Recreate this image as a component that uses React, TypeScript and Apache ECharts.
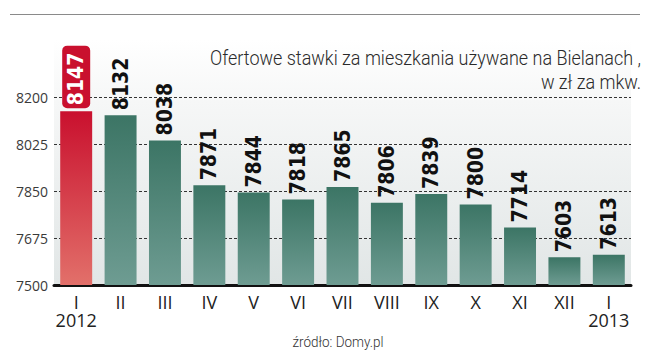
import React, { useEffect, useRef } from "react";
import * as echarts from "echarts";

const months = ["I", "II", "III", "IV", "V", "VI", "VII", "VIII", "IX", "X", "XI", "XII", "I"];
const years = ["2012", "", "", "", "", "", "", "", "", "", "", "", "2013"];
const values = [8147, 8132, 8038, 7871, 7844, 7818, 7865, 7806, 7839, 7800, 7714, 7603, 7613];
const yTickLabels = [7500, 7675, 7850, 8025, 8200];
const BASE = 7500;
const STEP = 175;
const titleLines = ["Ofertowe stawki za mieszkania używane na Bielanach ,", "w zł za mkw."];
const sourceText = "źródło: Domy.pl";

const LABEL_FONT = "'Liberation Sans Narrow', 'DejaVu Sans Condensed', 'DejaVu Sans', sans-serif";

export default function App() {
  const ref = useRef<HTMLDivElement>(null);
  useEffect(() => {
    if (!ref.current) return;
    const chart = echarts.init(ref.current, null, { renderer: "svg" });
    const cats = months.map((m, i) => `${m}-${i}`);
    const green = new echarts.graphic.LinearGradient(0, 0, 0, 1, [
      { offset: 0, color: "#3c7565" },
      { offset: 1, color: "#6e9c92" },
    ]);
    const red = new echarts.graphic.LinearGradient(0, 0, 0, 1, [
      { offset: 0, color: "#c9102e" },
      { offset: 1, color: "#e2706a" },
    ]);
    const top = yTickLabels[yTickLabels.length - 1] - BASE;
    chart.setOption({
      animation: false,
      backgroundColor: "#ffffff",
      grid: { left: 54, right: 19, top: 97, bottom: 71, containLabel: false },
      graphic: [
        {
          type: "line",
          shape: { x1: 10, y1: 14.5, x2: 640, y2: 14.5 },
          style: { stroke: "#8a8a8a", lineWidth: 1 },
        },
        {
          type: "rect",
          z: -100,
          shape: { x: 54, y: 40, width: 577, height: 245 },
          style: {
            fill: new echarts.graphic.LinearGradient(0, 0, 0, 1, [
              { offset: 0, color: "#ffffff" },
              { offset: 0.25, color: "#f6f7f7" },
              { offset: 1, color: "#e1e6e6" },
            ]),
          },
        },
        {
          type: "text",
          x: 641,
          y: 46,
          scaleX: 0.9,
          style: {
            text: titleLines.join("\n"),
            align: "right",
            verticalAlign: "top",
            fontFamily: "Roboto",
            fontWeight: 300,
            fontSize: 20,
            lineHeight: 24,
            fill: "#2a2a2a",
          },
        },
        {
          type: "text",
          x: 338,
          y: 342,
          scaleX: 0.9,
          style: {
            text: sourceText,
            align: "center",
            verticalAlign: "middle",
            fontFamily: "Roboto",
            fontWeight: 300,
            fontSize: 15,
            fill: "#333333",
          },
        },
      ],
      xAxis: {
        type: "category",
        data: cats,
        axisLine: { show: true, lineStyle: { color: "#111111", width: 3 } },
        axisTick: { show: false },
        axisLabel: {
          margin: 8,
          interval: 0,
          formatter: (_v: string, i: number) =>
            years[i] ? `{m|${months[i]}}\n{y|${years[i]}}` : `{m|${months[i]}}`,
          rich: {
            m: { fontFamily: "'Open Sans'", fontSize: 18, lineHeight: 18, color: "#222222" },
            y: { fontFamily: "'Open Sans'", fontSize: 18, lineHeight: 18, color: "#222222" },
          },
        },
      },
      yAxis: {
        type: "value",
        min: 0,
        max: top,
        interval: STEP,
        axisLine: { show: false },
        axisTick: { show: false },
        axisLabel: {
          margin: 6,
          fontFamily: "'Open Sans'",
          fontSize: 14,
          color: "#3a3a3a",
          formatter: (v: number) => String(v + BASE),
        },
        splitLine: { show: true, lineStyle: { color: "#333333", width: 1, type: [3, 2] } },
      },
      series: [
        {
          type: "bar",
          barWidth: "72%",
          data: values.map((v, i) => ({
            value: v - BASE,
            itemStyle: { color: i === 0 ? red : green },
            label:
              i === 0
                ? {
                    backgroundColor: "#c9102e",
                    color: "#ffffff",
                    borderRadius: 5,
                    padding: [4, 7, 3, 3],
                    distance: 3,
                  }
                : undefined,
          })),
          label: {
            show: true,
            position: "top",
            rotate: 90,
            align: "left",
            verticalAlign: "middle",
            distance: 5,
            fontFamily: LABEL_FONT,
            fontWeight: "bold",
            fontSize: 21,
            color: "#111111",
            formatter: (p: any) => String(values[p.dataIndex]),
          },
        },
      ],
    });
    return () => chart.dispose();
  }, []);
  return <div ref={ref} style={{ position: "fixed", left: 0, top: 0, width: 650, height: 356 }} />;
}
